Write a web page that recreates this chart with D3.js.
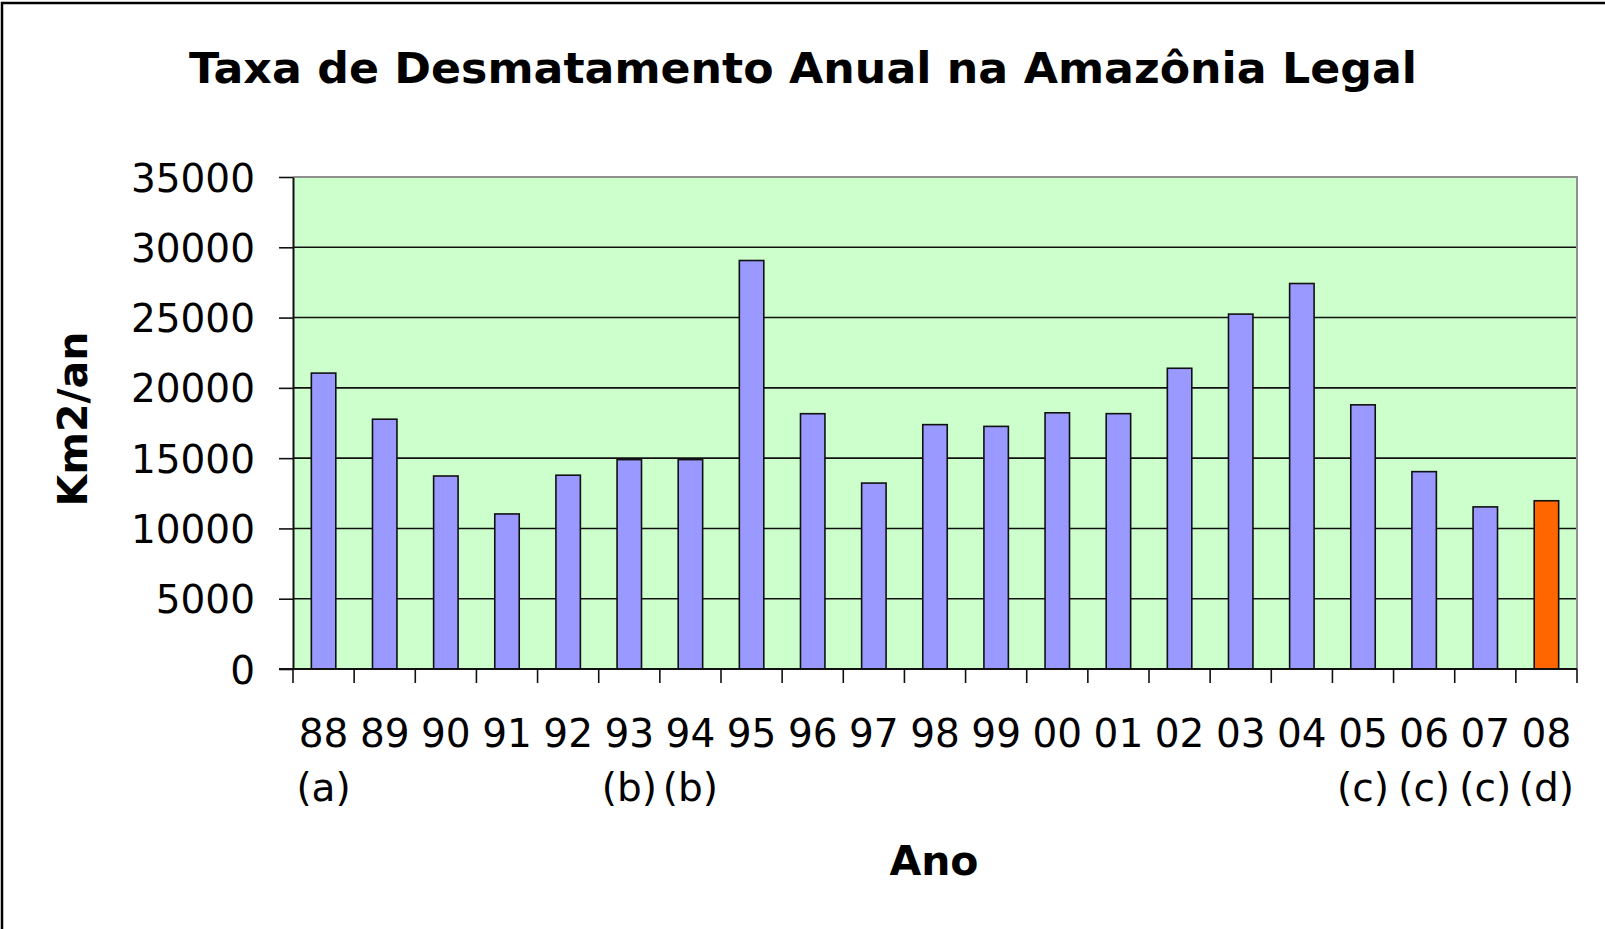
<!DOCTYPE html>
<html>
<head>
<meta charset="utf-8">
<script src="https://cdn.jsdelivr.net/npm/d3@7"></script>
<style>
  body { margin: 0; background: #fff; }
  svg { display: block; font-family: "DejaVu Sans", Verdana, sans-serif; }
</style>
</head>
<body>
<svg id="chart" width="1605" height="929"></svg>
<script>
// data
const years = ['88', '89', '90', '91', '92', '93', '94', '95', '96', '97', '98',
  '99', '00', '01', '02', '03', '04', '05', '06', '07', '08'];
const notes = ['(a)', '', '', '', '', '(b)', '(b)', '', '', '', '',
  '', '', '', '', '', '', '(c)', '(c)', '(c)', '(d)'];
const values = [21050, 17770, 13730, 11030, 13786, 14896, 14896, 29059, 18161, 13227, 17383,
  17259, 18226, 18165, 21394, 25247, 27423, 18793, 14039, 11532, 11968];
const yTicks = [0, 5000, 10000, 15000, 20000, 25000, 30000, 35000];

const svg = d3.select('#chart');
const margin = { left: 293, right: 1577, top: 177, bottom: 669 };

// outer chart frame (runs off the right and bottom edges)
svg.append('rect')
  .attr('x', 2).attr('y', 3)
  .attr('width', 1700).attr('height', 1000)
  .attr('fill', 'none')
  .attr('stroke', '#000')
  .attr('stroke-width', 2.5);

const x = d3.scaleBand()
  .domain(years)
  .range([margin.left, margin.right])
  .paddingInner(0).paddingOuter(0);

const y = d3.scaleLinear()
  .domain([0, 35000])
  .range([margin.bottom, margin.top]);

// plot background
svg.append('rect')
  .attr('x', margin.left).attr('y', margin.top)
  .attr('width', margin.right - margin.left)
  .attr('height', margin.bottom - margin.top)
  .attr('fill', '#ccffcc');

// gridlines
svg.append('g')
  .selectAll('line')
  .data(yTicks.filter(d => d > 0 && d < 35000))
  .join('line')
  .attr('x1', margin.left).attr('x2', margin.right)
  .attr('y1', d => y(d)).attr('y2', d => y(d))
  .attr('stroke', '#111')
  .attr('stroke-width', 1.6);

// grey top and right border of plot area
svg.append('path')
  .attr('d', `M${margin.left},${margin.top}H${margin.right}V${margin.bottom}`)
  .attr('fill', 'none')
  .attr('stroke', '#909090')
  .attr('stroke-width', 2);

// bars
const barW = x.bandwidth() * 0.4;
svg.append('g')
  .selectAll('rect')
  .data(values)
  .join('rect')
  .attr('x', (d, i) => x(years[i]) + (x.bandwidth() - barW) / 2)
  .attr('y', d => y(d))
  .attr('width', barW)
  .attr('height', d => y(0) - y(d))
  .attr('fill', (d, i) => i === values.length - 1 ? '#ff6600' : '#9999ff')
  .attr('stroke', '#111')
  .attr('stroke-width', 1.6);

// y axis
const yAxis = svg.append('g')
  .attr('transform', `translate(${margin.left},0)`)
  .call(d3.axisLeft(y).tickValues(yTicks).tickFormat(d3.format('d'))
    .tickSize(14).tickPadding(24).tickSizeOuter(0));
yAxis.select('.domain').attr('stroke', '#111').attr('stroke-width', 2);
yAxis.selectAll('.tick line').attr('stroke', '#111').attr('stroke-width', 1.6);
yAxis.selectAll('.tick text')
  .attr('font-size', 39)
  .attr('font-family', '"DejaVu Sans", Verdana, sans-serif')
  .attr('fill', '#000')
  .attr('dy', '0.36em');

// x axis: ticks sit between categories
const xEdges = years.map(d => x(d)).concat([margin.right]);
svg.append('line')
  .attr('x1', margin.left - 14).attr('x2', margin.right)
  .attr('y1', margin.bottom).attr('y2', margin.bottom)
  .attr('stroke', '#111').attr('stroke-width', 2);
svg.append('g')
  .selectAll('line')
  .data(xEdges)
  .join('line')
  .attr('x1', d => d).attr('x2', d => d)
  .attr('y1', margin.bottom).attr('y2', margin.bottom + 14)
  .attr('stroke', '#111').attr('stroke-width', 1.6);

const labels = svg.append('g')
  .attr('font-size', 39)
  .attr('text-anchor', 'middle')
  .attr('fill', '#000');
labels.selectAll('text.year')
  .data(years)
  .join('text')
  .attr('class', 'year')
  .attr('x', d => x(d) + x.bandwidth() / 2)
  .attr('y', 747)
  .text(d => d);
labels.selectAll('text.note')
  .data(notes)
  .join('text')
  .attr('class', 'note')
  .attr('x', (d, i) => x(years[i]) + x.bandwidth() / 2)
  .attr('y', 801)
  .text(d => d);

// titles
svg.append('text')
  .attr('x', 803).attr('y', 83)
  .attr('text-anchor', 'middle')
  .attr('font-size', 42)
  .attr('font-weight', 'bold')
  .attr('textLength', 1228)
  .attr('lengthAdjust', 'spacingAndGlyphs')
  .text('Taxa de Desmatamento Anual na Amazônia Legal');

svg.append('text')
  .attr('x', 934).attr('y', 875)
  .attr('text-anchor', 'middle')
  .attr('font-size', 41)
  .attr('font-weight', 'bold')
  .text('Ano');

svg.append('text')
  .attr('transform', 'translate(87,419) rotate(-90)')
  .attr('text-anchor', 'middle')
  .attr('font-size', 40)
  .attr('font-weight', 'bold')
  .attr('textLength', 175)
  .attr('lengthAdjust', 'spacingAndGlyphs')
  .text('Km2/an');
</script>
</body>
</html>
